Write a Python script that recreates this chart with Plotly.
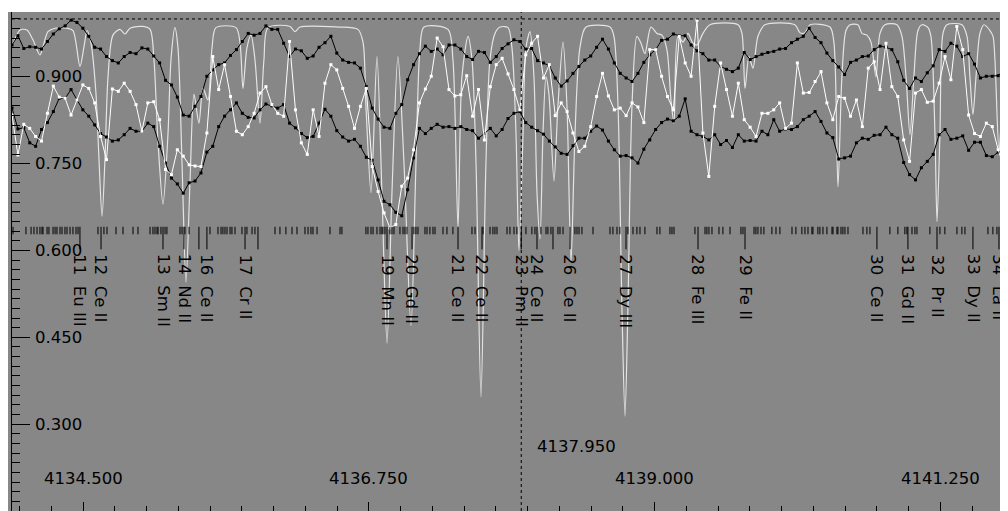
import numpy as np
import plotly.graph_objects as go

# ---------------- data ----------------
WL_START = 4133.94      # first sample of the observed spectra (Angstrom)
WL_STEP = 0.0465        # sampling step of the observed spectra

upper_black = [
    0.955, 0.971, 0.949, 0.952, 0.951, 0.948, 0.961, 0.974, 0.983, 0.988, 0.998, 0.994, 0.984, 0.970, 0.951,
    0.948, 0.935, 0.928, 0.924, 0.935, 0.942, 0.940, 0.950, 0.948, 0.936, 0.924, 0.894, 0.886, 0.865,
    0.834, 0.832, 0.849, 0.866, 0.901, 0.912, 0.921, 0.924, 0.937, 0.947, 0.961, 0.975, 0.972, 0.975,
    0.988, 0.982, 0.982, 0.958, 0.935, 0.948, 0.945, 0.932, 0.936, 0.951, 0.959, 0.970, 0.941, 0.929,
    0.925, 0.924, 0.915, 0.883, 0.846, 0.827, 0.813, 0.811, 0.837, 0.852, 0.895, 0.921, 0.940, 0.953,
    0.944, 0.948, 0.938, 0.955, 0.955, 0.948, 0.935, 0.930, 0.944, 0.942, 0.925, 0.935, 0.949, 0.957,
    0.964, 0.961, 0.948, 0.949, 0.928, 0.924, 0.919, 0.898, 0.884, 0.893, 0.906, 0.918, 0.929, 0.936,
    0.951, 0.965, 0.948, 0.924, 0.906, 0.898, 0.892, 0.906, 0.925, 0.938, 0.947, 0.963, 0.965, 0.974,
    0.971, 0.971, 0.955, 0.945, 0.940, 0.929, 0.929, 0.918, 0.913, 0.909, 0.915, 0.942, 0.930, 0.935,
    0.939, 0.942, 0.944, 0.948, 0.949, 0.959, 0.965, 0.970, 0.984, 0.968, 0.959, 0.941, 0.928, 0.917,
    0.904, 0.925, 0.929, 0.935, 0.936, 0.947, 0.953, 0.951, 0.947, 0.926, 0.894, 0.880, 0.898, 0.892,
    0.907, 0.919, 0.947, 0.944, 0.958, 0.953, 0.935, 0.940, 0.922, 0.898, 0.901, 0.901, 0.902, 0.912,
]

lower_black = [
    0.846, 0.810, 0.812, 0.786, 0.780, 0.809, 0.821, 0.840, 0.863, 0.863, 0.878, 0.860, 0.843, 0.832, 0.817,
    0.802, 0.796, 0.789, 0.791, 0.800, 0.811, 0.806, 0.806, 0.820, 0.814, 0.780, 0.751, 0.725, 0.715,
    0.699, 0.717, 0.720, 0.734, 0.770, 0.780, 0.814, 0.832, 0.843, 0.855, 0.837, 0.830, 0.829, 0.843,
    0.853, 0.850, 0.846, 0.852, 0.820, 0.812, 0.802, 0.795, 0.797, 0.820, 0.844, 0.832, 0.807, 0.796,
    0.789, 0.792, 0.780, 0.761, 0.756, 0.722, 0.685, 0.679, 0.666, 0.660, 0.705, 0.760, 0.811, 0.802,
    0.811, 0.818, 0.813, 0.814, 0.811, 0.814, 0.809, 0.807, 0.794, 0.802, 0.811, 0.798, 0.809, 0.828,
    0.837, 0.840, 0.821, 0.813, 0.807, 0.801, 0.789, 0.779, 0.768, 0.766, 0.781, 0.794, 0.794, 0.806,
    0.815, 0.808, 0.789, 0.774, 0.763, 0.764, 0.760, 0.751, 0.775, 0.791, 0.809, 0.821, 0.827, 0.824,
    0.832, 0.862, 0.806, 0.800, 0.797, 0.791, 0.800, 0.783, 0.790, 0.778, 0.800, 0.789, 0.790, 0.789,
    0.806, 0.800, 0.826, 0.806, 0.810, 0.809, 0.814, 0.826, 0.832, 0.840, 0.823, 0.803, 0.795, 0.758,
    0.760, 0.763, 0.786, 0.794, 0.792, 0.799, 0.800, 0.813, 0.800, 0.794, 0.752, 0.731, 0.722, 0.743,
    0.754, 0.766, 0.800, 0.809, 0.792, 0.794, 0.798, 0.773, 0.787, 0.787, 0.764, 0.762, 0.770, 0.763,
]

white_obs = [
    0.834, 0.765, 0.818, 0.811, 0.797, 0.789, 0.837, 0.884, 0.865, 0.863, 0.834, 0.860, 0.886, 0.880, 0.855,
    0.797, 0.757, 0.879, 0.875, 0.889, 0.875, 0.852, 0.806, 0.855, 0.857, 0.826, 0.740, 0.731, 0.774,
    0.763, 0.748, 0.746, 0.745, 0.803, 0.935, 0.878, 0.921, 0.866, 0.806, 0.800, 0.814, 0.837, 0.872,
    0.883, 0.852, 0.837, 0.832, 0.961, 0.843, 0.786, 0.766, 0.843, 0.797, 0.889, 0.921, 0.912, 0.880,
    0.849, 0.811, 0.849, 0.880, 0.745, 0.702, 0.665, 0.639, 0.645, 0.711, 0.725, 0.774, 0.855, 0.879,
    0.901, 0.967, 0.952, 0.878, 0.867, 0.869, 0.902, 0.832, 0.878, 0.791, 0.883, 0.921, 0.932, 0.905,
    0.878, 0.843, 0.938, 0.958, 0.970, 0.898, 0.921, 0.833, 0.855, 0.840, 0.803, 0.771, 0.780, 0.814,
    0.866, 0.906, 0.867, 0.843, 0.846, 0.833, 0.855, 0.848, 0.821, 0.947, 0.947, 0.901, 0.866, 0.843,
    0.970, 0.924, 0.901, 0.998, 0.803, 0.728, 0.849, 0.924, 0.878, 0.832, 0.889, 0.826, 0.813, 0.797,
    0.837, 0.837, 0.843, 0.855, 0.811, 0.820, 0.924, 0.872, 0.873, 0.892, 0.909, 0.855, 0.826, 0.866,
    0.863, 0.832, 0.860, 0.814, 0.915, 0.926, 0.878, 0.958, 0.883, 0.866, 0.791, 0.754, 0.872, 0.878,
    0.856, 0.858, 0.889, 0.935, 0.895, 0.987, 0.947, 0.834, 0.802, 0.797, 0.820, 0.814, 0.774, 0.743,
]

synth_wl = [
    4133.940, 4133.948, 4134.003, 4134.058, 4134.105, 4134.160, 4134.223, 4134.279, 4134.373, 4134.420,
    4134.475, 4134.507, 4134.531, 4134.562, 4134.601, 4134.625, 4134.649, 4134.672, 4134.696, 4134.735,
    4134.790, 4134.830, 4134.869, 4134.971, 4135.027, 4135.058, 4135.090, 4135.129, 4135.168, 4135.192,
    4135.223, 4135.247, 4135.279, 4135.310, 4135.342, 4135.373, 4135.412, 4135.444, 4135.483, 4135.515,
    4135.546, 4135.704, 4135.735, 4135.759, 4135.790, 4135.822, 4135.853, 4135.893, 4135.924, 4135.956,
    4136.129, 4136.168, 4136.208, 4136.507, 4136.664, 4136.704, 4136.727, 4136.767, 4136.814, 4136.853,
    4136.893, 4136.932, 4136.979, 4137.027, 4137.082, 4137.121, 4137.153, 4137.184, 4137.373, 4137.412,
    4137.452, 4137.483, 4137.531, 4137.562, 4137.594, 4137.633, 4137.672, 4137.704, 4137.743, 4137.783,
    4137.846, 4137.877, 4137.909, 4137.932, 4137.964, 4137.987, 4138.019, 4138.050, 4138.074, 4138.098,
    4138.121, 4138.145, 4138.168, 4138.208, 4138.239, 4138.279, 4138.310, 4138.342, 4138.373, 4138.412,
    4138.460, 4138.649, 4138.680, 4138.712, 4138.743, 4138.767, 4138.790, 4138.822, 4138.861, 4138.893,
    4138.924, 4138.971, 4139.019, 4139.058, 4139.097, 4139.129, 4139.153, 4139.184, 4139.224, 4139.263,
    4139.302, 4139.334, 4139.381, 4139.436, 4139.657, 4139.688, 4139.712, 4139.743, 4139.775, 4139.814,
    4139.869, 4140.105, 4140.145, 4140.184, 4140.224, 4140.381, 4140.412, 4140.444, 4140.475, 4140.507,
    4140.539, 4140.601, 4140.633, 4140.672, 4140.704, 4140.743, 4140.775, 4140.814, 4140.909, 4140.948,
    4140.980, 4141.011, 4141.042, 4141.074, 4141.105, 4141.153, 4141.176, 4141.208, 4141.224, 4141.247,
    4141.271, 4141.302, 4141.420, 4141.460, 4141.483, 4141.507, 4141.531, 4141.562, 4141.594, 4141.641,
    4141.665, 4141.680, 4141.712, 4141.735, 4141.759, 4141.783,
]
synth_flux = [
    0.955, 0.958, 0.981, 0.981, 0.964, 0.938, 0.978, 0.984, 0.984, 0.980,
    0.918, 0.952, 0.980, 0.958, 0.872, 0.757, 0.659, 0.757, 0.900, 0.972,
    0.982, 0.974, 0.984, 0.987, 0.982, 0.929, 0.786, 0.680, 0.800, 0.930,
    0.985, 0.950, 0.750, 0.545, 0.720, 0.870, 0.820, 0.880, 0.860, 0.950,
    0.985, 0.985, 0.960, 0.880, 0.950, 0.972, 0.930, 0.820, 0.930, 0.985,
    0.987, 0.978, 0.986, 0.986, 0.982, 0.960, 0.850, 0.700, 0.935, 0.700,
    0.440, 0.700, 0.935, 0.750, 0.470, 0.750, 0.950, 0.986, 0.982, 0.930,
    0.640, 0.900, 0.970, 0.930, 0.750, 0.347, 0.750, 0.930, 0.975, 0.986,
    0.985, 0.950, 0.800, 0.600, 0.800, 0.950, 0.978, 0.900, 0.700, 0.620,
    0.800, 0.900, 0.870, 0.720, 0.850, 0.960, 0.850, 0.580, 0.800, 0.950,
    0.986, 0.986, 0.970, 0.850, 0.500, 0.314, 0.500, 0.850, 0.970, 0.958,
    0.940, 0.986, 0.975, 0.972, 0.947, 0.860, 0.820, 0.970, 0.960, 0.975,
    0.958, 0.955, 0.975, 0.990, 0.990, 0.975, 0.880, 0.935, 0.915, 0.970,
    0.990, 0.990, 0.976, 0.976, 0.990, 0.986, 0.960, 0.710, 0.900, 0.980,
    0.990, 0.990, 0.975, 0.972, 0.960, 0.900, 0.975, 0.990, 0.990, 0.970,
    0.900, 0.800, 0.900, 0.980, 0.990, 0.985, 0.970, 0.800, 0.650, 0.800,
    0.975, 0.990, 0.990, 0.970, 0.900, 0.835, 0.900, 0.975, 0.990, 0.980,
    0.970, 0.930, 0.770, 0.850, 0.950, 0.975,
]

# line list: unlabelled short ticks
line_list = [
    4133.948, 4134.050, 4134.090, 4134.113, 4134.137, 4134.160, 4134.176, 4134.184, 4134.216, 4134.231,
    4134.263, 4134.279, 4134.294, 4134.318, 4134.334, 4134.357, 4134.373, 4134.397, 4134.420, 4134.444,
    4134.460, 4134.617, 4134.664, 4134.688, 4134.759, 4134.814, 4134.893, 4134.932, 4135.027, 4135.050,
    4135.066, 4135.082, 4135.090, 4135.113, 4135.145, 4135.160, 4135.263, 4135.279, 4135.302, 4135.334,
    4135.499, 4135.562, 4135.586, 4135.601, 4135.617, 4135.633, 4135.657, 4135.672, 4135.696, 4135.751,
    4135.790, 4135.830, 4135.853, 4136.011, 4136.050, 4136.097, 4136.145, 4136.184, 4136.247, 4136.271,
    4136.294, 4136.310, 4136.342, 4136.444, 4136.523, 4136.538, 4136.727, 4136.743, 4136.767, 4136.783,
    4136.814, 4136.838, 4136.853, 4136.861, 4136.877, 4136.916, 4136.932, 4136.948, 4136.995, 4137.019,
    4137.034, 4137.050, 4137.105, 4137.121, 4137.137, 4137.192, 4137.208, 4137.231, 4137.255, 4137.271,
    4137.334, 4137.365, 4137.412, 4137.562, 4137.586, 4137.649, 4137.704, 4137.727, 4137.743, 4137.759,
    4137.838, 4137.861, 4137.893, 4137.916, 4137.987, 4138.034, 4138.058, 4138.105, 4138.145, 4138.160,
    4138.184, 4138.239, 4138.255, 4138.279, 4138.373, 4138.389, 4138.405, 4138.428, 4138.515, 4138.649,
    4138.672, 4138.704, 4138.727, 4138.790, 4138.830, 4138.861, 4138.885, 4138.924, 4139.019, 4139.042,
    4139.121, 4139.137, 4139.153, 4139.318, 4139.397, 4139.412, 4139.428, 4139.452, 4139.507, 4139.538,
    4139.594, 4139.680, 4139.696, 4139.783, 4139.798, 4139.814, 4139.838, 4139.861, 4139.924, 4139.956,
    4139.987, 4140.082, 4140.113, 4140.160, 4140.184, 4140.208, 4140.239, 4140.247, 4140.286, 4140.302,
    4140.326, 4140.357, 4140.397, 4140.405, 4140.436, 4140.444, 4140.468, 4140.483, 4140.499, 4140.523,
    4140.641, 4140.672, 4140.696, 4140.853, 4140.916, 4140.971, 4140.987, 4141.027, 4141.050, 4141.066,
    4141.168, 4141.247, 4141.286, 4141.381, 4141.420, 4141.444, 4141.625, 4141.664, 4141.696, 4141.735,
    4141.759,
]

# numbered (identified) lines
id_wl = [4134.475, 4134.641, 4135.129, 4135.294, 4135.412, 4135.475, 4135.775, 4135.877,
         4136.893, 4137.090, 4137.452, 4137.641, 4137.950, 4138.074, 4138.200, 4138.334,
         4138.775, 4139.342, 4139.712, 4140.751, 4140.995, 4141.224, 4141.507, 4141.712]
id_label = ["11  Eu III", "12  Ce II", "13  Sm II", "14  Nd II", "", "16  Ce II", "17  Cr II", "",
            "19  Mn II", "20  Gd II", "21  Ce II", "22  Ce II", "23  Pm II", "24  Ce II", "", "26  Ce II",
            "27  Dy III", "28  Fe III", "29  Fe II", "30  Ce II", "31  Gd II", "32  Pr II", "33  Dy II",
            "34  La II"]

x_ticks = [4134.5, 4136.75, 4139.0, 4141.25]
x_tick_text = ["4134.500", "4136.750", "4139.000", "4141.250"]
y_ticks = [0.300, 0.450, 0.600, 0.750, 0.900]
y_tick_text = ["0.300", "0.450", "0.600", "0.750", "0.900"]
cursor_wl = 4137.950
cursor_text = "4137.950"
continuum = 1.0

# ---------------- figure ----------------
X_RANGE = [4133.94, 4141.783]
Y_RANGE = [0.15, 1.012]
BG = "#878787"
FONT = "DejaVu Sans"
FS = 16.5

def grid(n):
    return [WL_START + WL_STEP * i for i in range(n)]

fig = go.Figure()

fig.add_trace(go.Scatter(x=synth_wl, y=synth_flux, mode="lines",
                         line=dict(color="#e4e4e4", width=1.2, shape="spline", smoothing=0.8),
                         hoverinfo="skip"))
for vals, col in [(upper_black, "#000000"), (lower_black, "#000000"), (white_obs, "#ffffff")]:
    fig.add_trace(go.Scatter(x=grid(len(vals)), y=vals, mode="lines+markers",
                             line=dict(color=col, width=1),
                             marker=dict(symbol="square", size=3, color=col, line=dict(width=0)),
                             hoverinfo="skip"))

# line-list ticks
TICK_TOP, TICK_SHORT, TICK_LONG = 0.641, 0.628, 0.602
sx, sy = [], []
for w in line_list:
    sx += [w, w, None]
    sy += [TICK_TOP, TICK_SHORT, None]
fig.add_trace(go.Scatter(x=sx, y=sy, mode="lines", line=dict(color="#000000", width=1),
                         hoverinfo="skip"))
lx, ly = [], []
for w in id_wl:
    lx += [w, w, None]
    ly += [TICK_TOP, TICK_LONG, None]
fig.add_trace(go.Scatter(x=lx, y=ly, mode="lines", line=dict(color="#000000", width=1),
                         hoverinfo="skip"))

annotations = []
for w, t in zip(id_wl, id_label):
    if not t:
        continue
    annotations.append(dict(x=w, y=0.597, xref="x", yref="y", text=t.replace("  ", "\u00a0\u00a0"),
                            textangle=90, showarrow=False, xanchor="center", yanchor="top",
                            font=dict(family=FONT, size=FS, color="#000000")))
for v, t in zip(x_ticks, x_tick_text):
    annotations.append(dict(x=v, y=0.207, xref="x", yref="y", text=t, showarrow=False,
                            xanchor="center", yanchor="middle",
                            font=dict(family=FONT, size=FS, color="#000000")))
for v, t in zip(y_ticks, y_tick_text):
    annotations.append(dict(x=0.021, y=v, xref="paper", yref="y", text=t, showarrow=False,
                            xanchor="left", yanchor="middle",
                            font=dict(family=FONT, size=FS, color="#000000")))
annotations.append(dict(x=cursor_wl, y=0.262, xref="x", yref="y", text=cursor_text, showarrow=False,
                        xanchor="left", yanchor="middle", xshift=14,
                        font=dict(family=FONT, size=FS, color="#000000")))

shapes = [
    dict(type="rect", xref="paper", yref="paper", x0=-0.05, x1=1.05, y0=1.0, y1=1.1,
         fillcolor="#ffffff", line=dict(width=0), layer="below"),
    dict(type="line", xref="paper", yref="y", x0=0, x1=1, y0=continuum, y1=continuum,
         line=dict(color="#000000", width=1, dash="dot")),
    dict(type="line", xref="x", yref="paper", x0=cursor_wl, x1=cursor_wl, y0=0, y1=1,
         line=dict(color="#000000", width=1, dash="dot")),
]

# the page body adds an 8 px offset; the figure is sized so the plot area spans the window
fig.update_layout(
    width=1000, height=503, autosize=False,
    margin=dict(l=4, r=0, t=4, b=0, pad=0),
    paper_bgcolor=BG, plot_bgcolor=BG,
    showlegend=False,
    annotations=annotations, shapes=shapes,
    xaxis=dict(range=X_RANGE, showgrid=False, zeroline=False, showline=False,
               ticks="inside", tick0=4134.5, dtick=2.25, ticklen=9, tickcolor="#000000",
               tickwidth=1, showticklabels=False,
               minor=dict(ticks="inside", dtick=0.25, ticklen=5, tickcolor="#000000", tickwidth=1,
                          showgrid=False)),
    yaxis=dict(range=Y_RANGE, showgrid=False, zeroline=False, showline=True, linecolor="#000000",
               linewidth=1, ticks="inside", tick0=0.3, dtick=0.15, ticklen=18, tickcolor="#000000",
               tickwidth=1, showticklabels=False,
               minor=dict(ticks="inside", dtick=0.15 / 9, ticklen=8, tickcolor="#000000",
                          tickwidth=1, showgrid=False)),
)

fig.write_html("out.html")
